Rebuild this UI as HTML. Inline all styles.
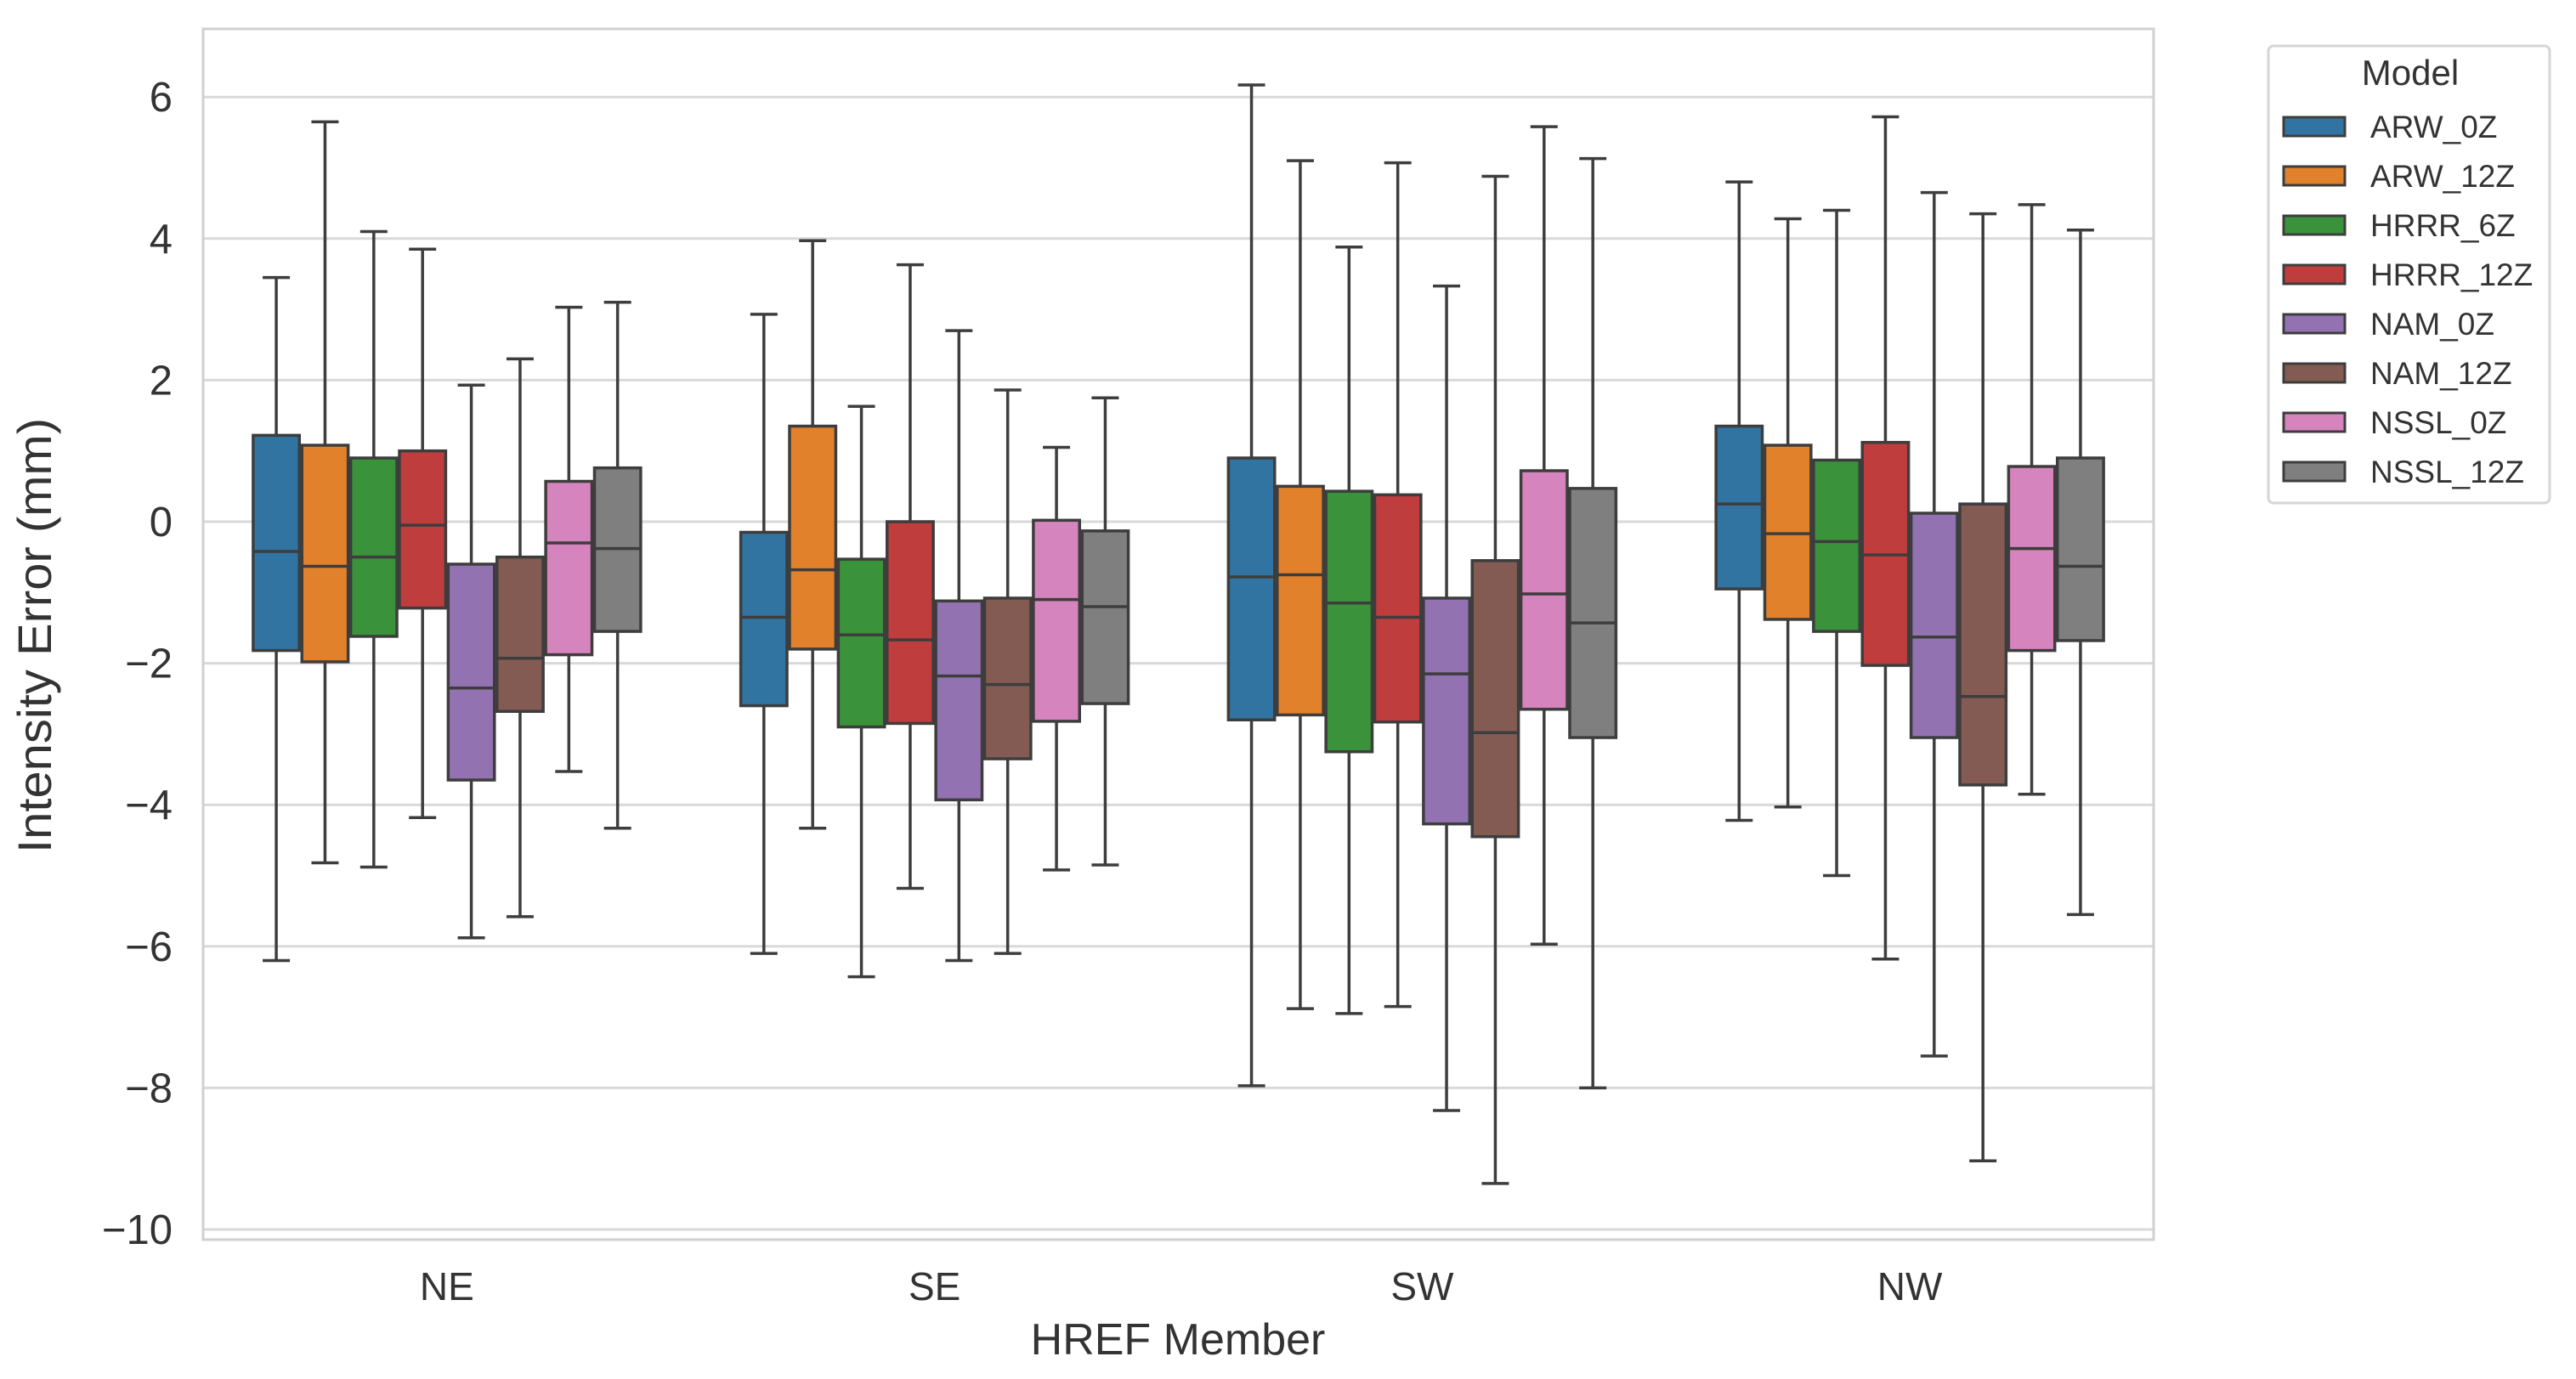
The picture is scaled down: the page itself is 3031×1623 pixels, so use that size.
<!DOCTYPE html>
<html><head><meta charset="utf-8">
<style>
html,body{margin:0;padding:0;background:#fff;}
svg{display:block;font-family:"Liberation Sans",sans-serif;}
</style></head>
<body>
<svg id="chart" width="3031" height="1623" viewBox="0 0 3031 1623" xmlns="http://www.w3.org/2000/svg">
<g id="grid"></g>
<g id="yticks"></g>
<g id="xticks"></g>
<g id="boxes"></g>
<rect x="239" y="34" width="2295" height="1425" fill="none" stroke="#d0d0d0" stroke-width="3"/>
<text transform="translate(60,748) rotate(-90)" text-anchor="middle" font-size="56" fill="#333" textLength="512" lengthAdjust="spacingAndGlyphs">Intensity Error (mm)</text>
<text x="1386" y="1594" text-anchor="middle" font-size="52" fill="#333">HREF Member</text>
<g id="legend">
<rect x="2669" y="54" width="331" height="538" rx="6" fill="#fff" stroke="#d6d6d6" stroke-width="3"/>
<text x="2836" y="100" text-anchor="middle" font-size="42" fill="#333">Model</text>
</g>
</svg>
<script>
const categories = ["NE","SE","SW","NW"];
const models = ["ARW_0Z","ARW_12Z","HRRR_6Z","HRRR_12Z","NAM_0Z","NAM_12Z","NSSL_0Z","NSSL_12Z"];
const colors = ["#3274a1","#e1812c","#3a923a","#c03d3e","#9372b2","#845b53","#d684bd","#7f7f7f"];
const yTicks = [6,4,2,0,-2,-4,-6,-8,-10];
// per region: [whiskerHigh, q3, median, q1, whiskerLow] for each model
const statsNE = [[3.45,1.22,-0.42,-1.82,-6.2],[5.65,1.08,-0.63,-1.98,-4.82],[4.1,0.9,-0.5,-1.62,-4.88],[3.85,1.0,-0.05,-1.22,-4.18],[1.93,-0.6,-2.35,-3.65,-5.88],[2.3,-0.5,-1.93,-2.68,-5.58],[3.03,0.57,-0.3,-1.88,-3.53],[3.1,0.76,-0.38,-1.55,-4.33]];
const statsSE = [[2.93,-0.15,-1.35,-2.6,-6.1],[3.97,1.35,-0.68,-1.8,-4.33],[1.63,-0.53,-1.6,-2.9,-6.43],[3.63,0.0,-1.67,-2.85,-5.18],[2.7,-1.12,-2.18,-3.93,-6.2],[1.86,-1.08,-2.3,-3.35,-6.1],[1.05,0.02,-1.1,-2.82,-4.92],[1.75,-0.13,-1.2,-2.57,-4.85]];
const statsSW = [[6.17,0.9,-0.78,-2.8,-7.97],[5.1,0.5,-0.75,-2.73,-6.88],[3.88,0.43,-1.15,-3.25,-6.95],[5.07,0.38,-1.35,-2.83,-6.85],[3.33,-1.08,-2.15,-4.27,-8.32],[4.88,-0.55,-2.98,-4.45,-9.35],[5.58,0.72,-1.02,-2.65,-5.97],[5.13,0.47,-1.43,-3.05,-8.0]];
const statsNW = [[4.8,1.35,0.25,-0.95,-4.22],[4.28,1.08,-0.17,-1.38,-4.03],[4.4,0.87,-0.28,-1.55,-5.0],[5.72,1.12,-0.47,-2.03,-6.18],[4.65,0.12,-1.63,-3.05,-7.55],[4.35,0.25,-2.47,-3.72,-9.03],[4.48,0.78,-0.38,-1.82,-3.85],[4.12,0.9,-0.63,-1.68,-5.55]];
const allStats = [statsNE, statsSE, statsSW, statsNW];

const NS = "http://www.w3.org/2000/svg";
const L = 239, R = 2534;
function y(v){ return 614 - v*83.3; }
const groupW = (R-L)/categories.length;
function xc(i){ return L + groupW*(i+0.5); }
const boxW = groupW*0.8/models.length;
function mk(tag, attrs, parent){
  const e = document.createElementNS(NS, tag);
  for (const k in attrs) e.setAttribute(k, attrs[k]);
  parent.appendChild(e); return e;
}
const grid = document.getElementById('grid');
const yt = document.getElementById('yticks');
yTicks.forEach(t=>{
  const ln = mk('line',{x1:L,x2:R,y1:y(t),y2:y(t),stroke:'#d9d9d9','stroke-width':3},grid);
  
  
  const tx = mk('text',{x:203,y:y(t)+17,'text-anchor':'end','font-size':49,fill:'#333'},yt);
  tx.textContent = t<0 ? '\u2212'+Math.abs(t) : String(t);
  
  
});
const xt = document.getElementById('xticks');
categories.forEach((c,i)=>{
  const tx = mk('text',{x:xc(i),y:1530,'text-anchor':'middle','font-size':46,fill:'#333'},xt);
  tx.textContent = c;
  
  
});
const bx = document.getElementById('boxes');
const st = '#3d3d3d';
allStats.forEach((grp,i)=>{
  grp.forEach((s,j)=>{
    const cx = xc(i) - groupW*0.4 + boxW*(j+0.5);
    const g = mk('g',{},bx);
    
    
    const hw = boxW/2 - 1.5;
    mk('line',{x1:cx,x2:cx,y1:y(s[0]),y2:y(s[1]),stroke:st,'stroke-width':3.5},g);
    mk('line',{x1:cx,x2:cx,y1:y(s[3]),y2:y(s[4]),stroke:st,'stroke-width':3.5},g);
    mk('line',{x1:cx-16,x2:cx+16,y1:y(s[0]),y2:y(s[0]),stroke:st,'stroke-width':3.5},g);
    mk('line',{x1:cx-16,x2:cx+16,y1:y(s[4]),y2:y(s[4]),stroke:st,'stroke-width':3.5},g);
    mk('rect',{x:cx-hw,y:y(s[1]),width:hw*2,height:y(s[3])-y(s[1]),fill:colors[j],stroke:st,'stroke-width':3.5},g);
    mk('line',{x1:cx-hw,x2:cx+hw,y1:y(s[2]),y2:y(s[2]),stroke:st,'stroke-width':3.5},g);
  });
});
const lg = document.getElementById('legend');
models.forEach((m,j)=>{
  const yy = 149 + 58*j;
  const g = mk('g',{},lg);
  
  
  mk('rect',{x:2687,y:yy-11,width:72,height:22,fill:colors[j],stroke:st,'stroke-width':3},g);
  const tx = mk('text',{x:2789,y:yy+13,'font-size':37,fill:'#333'},g);
  tx.textContent = m;
});
</script>
</body></html>
